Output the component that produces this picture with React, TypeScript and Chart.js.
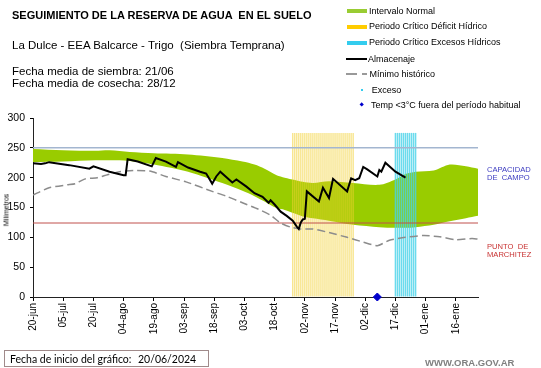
import { useEffect, useRef } from 'react';
import { Chart, registerables } from 'chart.js';

Chart.register(...registerables);

// ---- data (days counted from 20/06/2024) ----
const TICK_LABELS = ['20-jun', '05-jul', '20-jul', '04-ago', '19-ago', '03-sep', '18-sep', '03-oct', '18-oct', '02-nov', '17-nov', '02-dic', '17-dic', '01-ene', '16-ene'];
const TICK_STEP = 15;
const X_MAX = 221;

const ALMACENAJE_DAYS = [0, 4, 6, 8, 18, 28, 30, 38, 45, 46, 47, 52, 59, 61, 66, 71, 72, 77, 83, 86, 89, 91, 93, 99, 101, 106, 110, 114, 117, 118, 120, 123, 126, 129, 131, 132, 133, 134, 135, 136, 142, 144, 147, 149, 156, 158, 160, 162, 164, 166, 171, 172, 173, 175, 180, 185];
const ALMACENAJE = [224, 223, 224, 226, 221, 215, 219, 210, 204, 204, 231, 227, 219, 233, 227, 218, 226, 217, 210, 207, 190, 202, 210, 192, 197, 185, 174, 168, 158, 162, 155, 143, 136, 128, 118, 114, 125, 130, 131, 177, 160, 183, 166, 198, 177, 199, 196, 199, 218, 214, 202, 213, 210, 225, 210, 200];

const MINIMO_DAYS = [0, 8, 17, 21, 26, 32, 37, 43, 50, 58, 66, 76, 89, 96, 104, 112, 118, 123, 128, 133, 139, 147, 156, 164, 171, 177, 185, 194, 202, 210, 218, 221];
const MINIMO = [171, 183, 188, 190, 198, 200, 205, 210, 212, 211, 202, 193, 177, 169, 158, 147, 137, 124, 117, 114, 114, 108, 100, 92, 86, 95, 100, 103, 101, 96, 98, 97];

const NORMAL_DAYS = [0, 15, 31, 38, 48, 60, 77, 94, 104, 110, 115, 121, 125, 130, 134, 139, 147, 159, 172, 180, 185, 190, 199, 207, 215, 221];
const NORMAL_MAX = [248, 246, 245, 246, 243, 241, 239, 233, 227, 222, 215, 204, 200, 196, 193, 191, 194, 191, 188, 197, 206, 210, 212, 222, 219, 215];
const NORMAL_MIN = [226, 227, 229, 229, 228, 222, 210, 191, 178, 169, 160, 149, 146, 140, 135, 132, 128, 121, 117, 116, 116, 117, 121, 127, 132, 136];

const DEFICIT_PERIOD = [129, 159];
const EXCESO_PERIOD = [180, 190];
const PERIOD_TOP = 275;

const HELADA_DAYS = [171];
const HELADA = [0];

const CAPACIDAD = 250;
const MARCHITEZ = 124;

const FONT = '"Liberation Sans", Arial, sans-serif';

function pts(xs: number[], ys: number[]) {
  return xs.map((x, i) => ({ x, y: ys[i] }));
}
function periodBars(p: number[]) {
  const out: { x: number; y: number }[] = [];
  for (let d = p[0]; d <= p[1]; d++) out.push({ x: d, y: PERIOD_TOP });
  return out;
}

export default function App() {
  const ref = useRef<HTMLCanvasElement>(null);

  useEffect(() => {
    document.body.style.margin = '0';
    const chart = new Chart(ref.current as HTMLCanvasElement, {
      type: 'bar',
      data: {
        datasets: [
          {
            type: 'line',
            label: 'max',
            data: pts(NORMAL_DAYS, NORMAL_MAX),
            borderWidth: 0,
            borderColor: 'rgba(0,0,0,0)',
            pointRadius: 0,
            fill: false,
            tension: 0.3,
            order: 10,
          },
          {
            type: 'line',
            label: 'Intervalo Normal',
            data: pts(NORMAL_DAYS, NORMAL_MIN),
            borderWidth: 0,
            borderColor: 'rgba(0,0,0,0)',
            backgroundColor: '#99cc00',
            pointRadius: 0,
            fill: '-1',
            tension: 0.3,
            order: 10,
          },
          {
            type: 'bar',
            label: 'Periodo Crítico Déficit Hídrico',
            data: periodBars(DEFICIT_PERIOD),
            backgroundColor: 'rgba(242, 208, 50, 0.6)',
            barPercentage: 0.65,
            categoryPercentage: 1,
            grouped: false,
            order: 8,
          },
          {
            type: 'bar',
            label: 'Periodo Crítico Excesos Hídricos',
            data: periodBars(EXCESO_PERIOD),
            backgroundColor: 'rgba(70, 210, 232, 0.8)',
            barPercentage: 0.75,
            categoryPercentage: 1,
            grouped: false,
            order: 8,
          },
          {
            type: 'line',
            label: 'Capacidad',
            data: [{ x: 0, y: CAPACIDAD }, { x: X_MAX, y: CAPACIDAD }],
            borderColor: '#a3b6d0',
            borderWidth: 1.5,
            pointRadius: 0,
            fill: false,
            order: 6,
          },
          {
            type: 'line',
            label: 'Marchitez',
            data: [{ x: 0, y: MARCHITEZ }, { x: X_MAX, y: MARCHITEZ }],
            borderColor: '#c0504d',
            borderWidth: 1,
            pointRadius: 0,
            fill: false,
            order: 6,
          },
          {
            type: 'line',
            label: 'Mínimo histórico',
            data: pts(MINIMO_DAYS, MINIMO),
            borderColor: '#8c8c8c',
            borderWidth: 1.5,
            borderDash: [8, 4],
            pointRadius: 0,
            fill: false,
            tension: 0.2,
            order: 3,
          },
          {
            type: 'line',
            label: 'Almacenaje',
            data: pts(ALMACENAJE_DAYS, ALMACENAJE),
            borderColor: '#000000',
            borderWidth: 2,
            pointRadius: 0,
            fill: false,
            tension: 0,
            order: 1,
          },
          {
            type: 'line',
            label: 'Temp <3°C',
            data: pts(HELADA_DAYS, HELADA),
            showLine: false,
            pointStyle: 'rectRot',
            pointRadius: 4,
            backgroundColor: '#0000cc',
            borderColor: '#0000cc',
            clip: false as any,
            order: 0,
          },
        ] as any,
      },
      options: {
        animation: false,
        responsive: false,
        events: [],
        layout: { padding: { top: 118, right: 63, bottom: 31, left: 0 } },
        plugins: { legend: { display: false }, tooltip: { enabled: false }, title: { display: false } },
        scales: {
          x: {
            type: 'linear',
            min: 0,
            max: X_MAX,
            offset: false,
            grid: { display: true, drawOnChartArea: false, drawTicks: true, tickLength: 4, color: '#000', offset: false },
            border: { color: '#222', width: 1 },
            ticks: {
              stepSize: TICK_STEP,
              includeBounds: false,
              autoSkip: false,
              minRotation: 90,
              maxRotation: 90,
              padding: 2,
              color: '#000',
              font: { family: FONT, size: 10 },
              callback: (v: any) => TICK_LABELS[Math.round(Number(v) / TICK_STEP)] ?? '',
            },
            afterFit: (s: any) => { s.height = 40; },
          },
          y: {
            min: 0,
            max: 300,
            grid: { display: true, drawOnChartArea: false, drawTicks: true, tickLength: 3, color: '#000' },
            border: { color: '#222', width: 1 },
            ticks: { stepSize: 50, padding: 5, color: '#000', font: { family: FONT, size: 10.5 } },
            afterFit: (s: any) => { s.width = 33; },
          },
        },
      } as any,
    });
    return () => chart.destroy();
  }, []);

  const abs = (style: any) => ({ position: 'absolute', whiteSpace: 'pre', ...style } as any);
  const legendText = (top: number, left: number, text: string) => (
    <div style={abs({ left, top: top - 5.5, fontSize: '9px', lineHeight: '11px', color: '#000' })}>{text}</div>
  );

  return (
    <div style={{ position: 'relative', width: 541, height: 368, background: '#fff', fontFamily: FONT, overflow: 'hidden' }}>
      <canvas ref={ref} width={541} height={368} style={{ position: 'absolute', left: 0, top: 0 }} />

      <div style={abs({ left: 12, top: 9.5, fontSize: '11px', lineHeight: '11px', fontWeight: 'bold' })}>SEGUIMIENTO DE LA RESERVA DE AGUA  EN EL SUELO</div>
      <div style={abs({ left: 12, top: 39.5, fontSize: '11.5px', lineHeight: '11.5px' })}>La Dulce - EEA Balcarce - Trigo  (Siembra Temprana)</div>
      <div style={abs({ left: 12, top: 66.2, fontSize: '11.5px', lineHeight: '11.4px' })}>{'Fecha media de siembra: 21/06\nFecha media de cosecha: 28/12'}</div>

      {/* legend */}
      <div style={abs({ left: 347, top: 9.2, width: 20, height: 3.6, background: '#99cc33' })} />
      {legendText(11, 369, 'Intervalo Normal')}
      <div style={abs({ left: 347, top: 25, width: 20, height: 3.6, background: '#ffcc00' })} />
      {legendText(26.7, 369, 'Periodo Crítico Déficit Hídrico')}
      <div style={abs({ left: 347, top: 41, width: 20, height: 3.6, background: '#33ccee' })} />
      {legendText(42.7, 369, 'Periodo Crítico Excesos Hídricos')}
      <div style={abs({ left: 346, top: 58.3, width: 21, height: 2, background: '#000' })} />
      {legendText(59.3, 368, 'Almacenaje')}
      <div style={abs({ left: 346, top: 73.3, width: 11, height: 1.5, background: '#999' })} />
      <div style={abs({ left: 362, top: 73.3, width: 5, height: 1.5, background: '#999' })} />
      {legendText(74, 369.5, 'Mínimo histórico')}
      <div style={abs({ left: 360.5, top: 88.8, width: 2.5, height: 2.5, background: '#33ccee' })} />
      {legendText(90, 371.7, 'Exceso')}
      <div style={abs({ left: 360, top: 103.3, width: 3.4, height: 3.4, background: '#0000cc', transform: 'rotate(45deg)' })} />
      {legendText(105, 371, 'Temp <3°C fuera del período habitual')}

      {/* right labels */}
      <div style={abs({ left: 487, top: 166, fontSize: '7.6px', lineHeight: '8.4px', color: '#3b3bc0' })}>{'CAPACIDAD\nDE  CAMPO'}</div>
      <div style={abs({ left: 487, top: 242.5, fontSize: '7.6px', lineHeight: '8.6px', color: '#c83232' })}>{'PUNTO  DE\nMARCHITEZ'}</div>

      {/* y axis title */}
      <div style={abs({ left: 6, top: 210, fontSize: '7px', lineHeight: '7px', transform: 'translate(-50%, -50%) rotate(-90deg)' })}>Milímetros</div>

      {/* footer */}
      <div style={abs({ left: 4, top: 350, width: 205, height: 17, border: '1px solid #a08a8a', boxSizing: 'border-box' })} />
      <div style={abs({ left: 10, top: 353.5, fontSize: '10.5px', lineHeight: '11px', fontFamily: 'Lato, "Open Sans", sans-serif' })}>Fecha de inicio del gráfico:</div>
      <div style={abs({ left: 138, top: 353.5, fontSize: '10.5px', lineHeight: '11px', fontFamily: 'Lato, "Open Sans", sans-serif' })}>20/06/2024</div>
      <div style={abs({ left: 425, top: 357.5, fontSize: '9.5px', lineHeight: '10px', fontWeight: 'bold', color: '#808080' })}>WWW.ORA.GOV.AR</div>
    </div>
  );
}
